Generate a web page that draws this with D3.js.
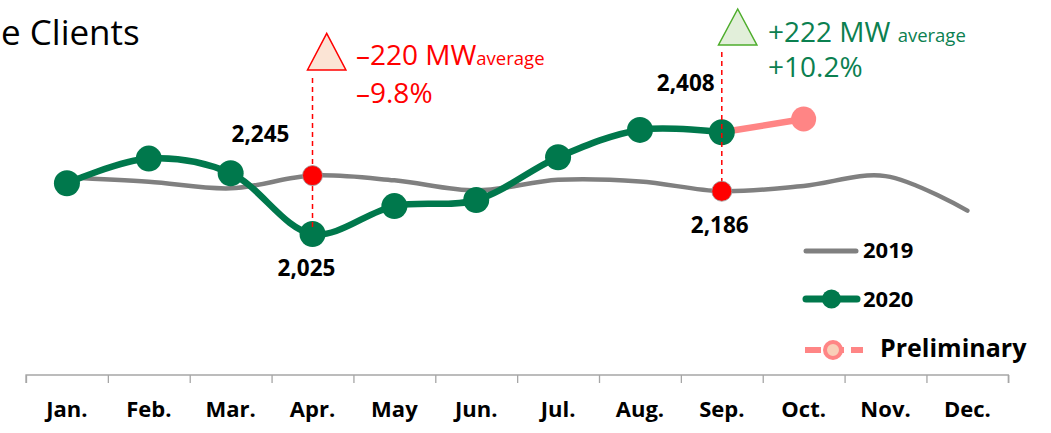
<!DOCTYPE html>
<html>
<head>
<meta charset="utf-8">
<script src="https://cdn.jsdelivr.net/npm/d3@7"></script>
<style>
  html, body { margin: 0; padding: 0; background: #fff; }
  svg { display: block; font-family: "Open Sans", "Noto Sans", sans-serif; }
</style>
</head>
<body>
<svg id="chart" width="1051" height="433"></svg>
<script>
// ---- data ----
const months = ["Jan.", "Feb.", "Mar.", "Apr.", "May", "Jun.", "Jul.", "Aug.", "Sep.", "Oct.", "Nov.", "Dec."];
const values2019 = [2238, 2222, 2197, 2245, 2227, 2189, 2229, 2223, 2186, 2206, 2243, 2113];
const months2020 = ["Jan.", "Feb.", "Mar.", "Apr.", "May", "Jun.", "Jul.", "Aug.", "Sep."];
const values2020 = [2216, 2309, 2254, 2025, 2130, 2153, 2314, 2417, 2408];
const monthsPrelim = ["Sep.", "Oct."];
const valuesPrelim = [2408, 2458];
const legendLabels = ["2019", "2020", "Preliminary"];
const titleText = "e Clients";

// ---- colours ----
const GREEN = "#00784C", GRAY = "#808080", PINK = "#FF8585", RED = "#FF0000", TXTGREEN = "#0B8050";

const svg = d3.select("#chart");
const x = d3.scaleBand().domain(months).range([26, 1008.3]);
const xc = m => x(m) + x.bandwidth() / 2;
const xt = d3.scaleLinear().domain([0, months.length]).range([26, 1008.3]);
const y = d3.scaleLinear().domain([2025, 2408]).range([234, 132.3]);

// title
svg.append("text").attr("x", 1).attr("y", 45).attr("text-anchor", "start")
  .attr("font-size", 35).attr("fill", "#000").text(titleText);

// axis: ticks between categories
const tickAxis = svg.append("g").attr("transform", "translate(0,375)")
  .call(d3.axisBottom(xt).ticks(12).tickSize(8).tickFormat(""));
tickAxis.selectAll("path, line").attr("stroke", "#A6A6A6").attr("stroke-width", 1.3);
tickAxis.select(".domain").attr("d", `M26,8V0H1008.3V8`);

const labelAxis = svg.append("g").attr("transform", "translate(0,375)")
  .call(d3.axisBottom(x).tickSize(0));
labelAxis.select(".domain").remove();
labelAxis.selectAll("text").attr("y", 42).attr("dy", 0)
  .attr("font-family", "Open Sans, sans-serif").attr("font-size", 22)
  .attr("font-weight", "bold").attr("fill", "#000");

// 2019 line
const line = d3.line().x(d => xc(d[0])).y(d => y(d[1])).curve(d3.curveCatmullRom.alpha(0.5));
svg.append("path").datum(months.map((m, i) => [m, values2019[i]]))
  .attr("d", line).attr("fill", "none").attr("stroke", GRAY)
  .attr("stroke-width", 4.5).attr("stroke-linecap", "round");

// preliminary
svg.append("path").datum(monthsPrelim.map((m, i) => [m, valuesPrelim[i]]))
  .attr("d", d3.line().x(d => xc(d[0])).y(d => y(d[1])))
  .attr("fill", "none").attr("stroke", PINK).attr("stroke-width", 6.5);
svg.append("circle").attr("cx", xc(monthsPrelim[1])).attr("cy", y(valuesPrelim[1]))
  .attr("r", 12.5).attr("fill", PINK);

// 2020 line
svg.append("path").datum(months2020.map((m, i) => [m, values2020[i]]))
  .attr("d", line).attr("fill", "none").attr("stroke", GREEN)
  .attr("stroke-width", 6.5).attr("stroke-linecap", "round");
svg.selectAll("circle.g20").data(months2020.map((m, i) => [m, values2020[i]]))
  .join("circle").attr("class", "g20")
  .attr("cx", d => xc(d[0])).attr("cy", d => y(d[1])).attr("r", 13).attr("fill", GREEN);

// annotations: dashed lines and triangles
const iApr = months.indexOf("Apr."), iSep = months.indexOf("Sep.");
const dash = (xx, y1, y2) => svg.append("line").attr("x1", xx).attr("x2", xx)
  .attr("y1", y1).attr("y2", y2).attr("stroke", RED).attr("stroke-width", 1.5)
  .attr("stroke-dasharray", "5,4");
dash(xc("Apr."), 78, y(values2020[iApr]) - 6);
dash(xc("Sep."), 52, y(values2019[iSep]));

// red markers on 2019
[iApr, iSep].forEach(i => {
  svg.append("circle").attr("cx", xc(months[i])).attr("cy", y(values2019[i]))
    .attr("r", 10).attr("fill", RED).attr("stroke", "#9b9b9b").attr("stroke-width", 0.8);
});

const tri = (cx, top, bottom, half, fill, stroke) => svg.append("path")
  .attr("d", `M${cx},${top}L${cx + half},${bottom}L${cx - half},${bottom}Z`)
  .attr("fill", fill).attr("stroke", stroke).attr("stroke-width", 1.5);
tri(xc("Apr.") + 14.2, 33.3, 70, 19.2, "#FBE4D5", RED);
tri(xc("Sep.") + 15.9, 9, 45, 19.2, "#E2EFDA", "#4EAD2C");

// annotation texts
const t1 = svg.append("text").attr("x", 356).attr("y", 65).attr("fill", RED).attr("font-size", 28);
t1.append("tspan").text("\u2013220 MW");
t1.append("tspan").attr("font-size", 18.5).text("average");
svg.append("text").attr("x", 356).attr("y", 103).attr("fill", RED).attr("font-size", 28).text("\u20139.8%");

const t2 = svg.append("text").attr("x", 768).attr("y", 42).attr("fill", TXTGREEN).attr("font-size", 28);
t2.append("tspan").text("+222 MW ");
t2.append("tspan").attr("font-size", 18.5).text("average");
svg.append("text").attr("x", 768).attr("y", 77).attr("fill", TXTGREEN).attr("font-size", 28).text("+10.2%");

// value labels
const fmt = d3.format(",");
const valLabel = (xx, yy, v) => svg.append("text").attr("x", xx).attr("y", yy)
  .attr("text-anchor", "middle").attr("font-size", 22.5).attr("font-weight", "bold")
  .attr("fill", "#000").text(fmt(v));
valLabel(xc("Apr.") - 52, y(values2019[iApr]) - 34, values2019[iApr]);
valLabel(xc("Apr.") - 6, y(values2020[iApr]) + 42, values2020[iApr]);
valLabel(xc("Sep.") - 2, y(values2019[iSep]) + 42, values2019[iSep]);
valLabel(xc("Sep.") - 36, y(values2020[iSep]) - 41, values2020[iSep]);

// legend
const lg = svg.append("g");
lg.append("line").attr("x1", 806).attr("x2", 856).attr("y1", 251).attr("y2", 251)
  .attr("stroke", GRAY).attr("stroke-width", 5).attr("stroke-linecap", "round");
lg.append("text").attr("x", 863).attr("y", 258).attr("font-size", 22).attr("font-weight", "bold").text(legendLabels[0]);
lg.append("line").attr("x1", 806).attr("x2", 857).attr("y1", 299).attr("y2", 299)
  .attr("stroke", GREEN).attr("stroke-width", 7).attr("stroke-linecap", "round");
lg.append("circle").attr("cx", 831.5).attr("cy", 299).attr("r", 9.5).attr("fill", GREEN);
lg.append("text").attr("x", 863).attr("y", 307).attr("font-size", 22).attr("font-weight", "bold").text(legendLabels[1]);
lg.append("line").attr("x1", 805).attr("x2", 863).attr("y1", 350).attr("y2", 350)
  .attr("stroke", PINK).attr("stroke-width", 6).attr("stroke-dasharray", "16,7");
lg.append("circle").attr("cx", 833).attr("cy", 350).attr("r", 8).attr("fill", "#F9CFB8")
  .attr("stroke", PINK).attr("stroke-width", 4);
lg.append("text").attr("x", 880).attr("y", 357).attr("font-size", 25).attr("font-weight", "bold").text(legendLabels[2]);
</script>
</body>
</html>
